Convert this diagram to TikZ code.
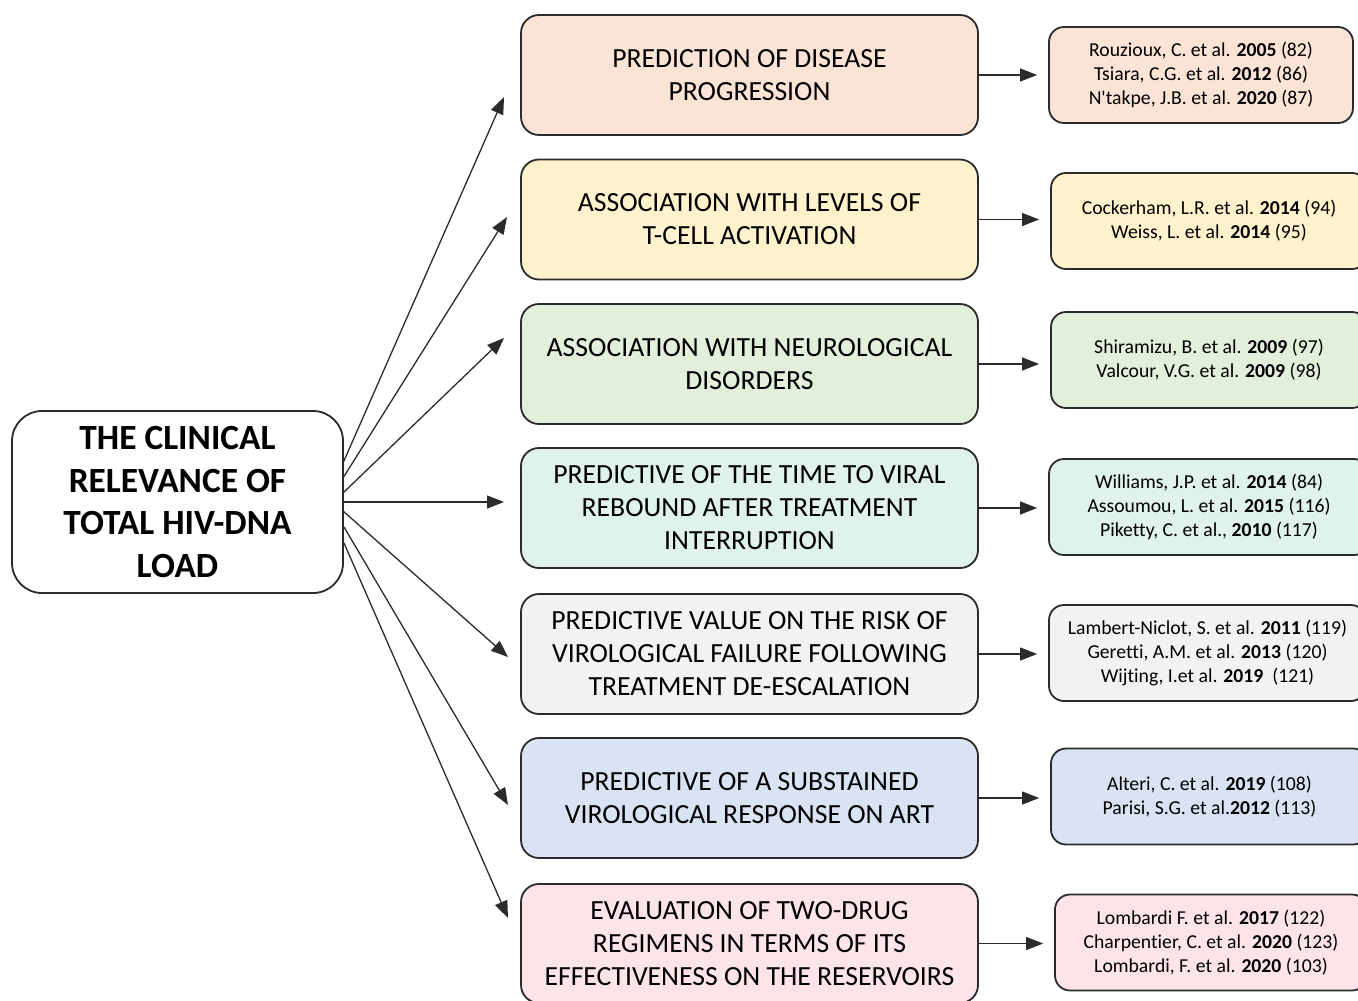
\documentclass[tikz,border=0pt]{standalone}
\usepackage{fontspec}
\setmainfont{Carlito}[Ligatures={NoCommon,TeXOff}]
\usetikzlibrary{arrows.meta,calc}
\definecolor{c1}{HTML}{FBE3D6}
\definecolor{c2}{HTML}{FFF2CC}
\definecolor{c3}{HTML}{E2EFDA}
\definecolor{c4}{HTML}{DFF2EC}
\definecolor{c5}{HTML}{F2F2F2}
\definecolor{c6}{HTML}{DAE3F3}
\definecolor{c7}{HTML}{FDE4E9}
\definecolor{edge}{HTML}{2B2B2B}
\begin{document}
\begin{tikzpicture}[x=1pt,y=-1pt,
  mainbox/.style={draw=edge,line width=1.8pt,rounded corners=30pt,align=center,
    minimum width=331pt,minimum height=182pt,inner sep=0pt,
    font=\fontsize{35.4}{42.5}\selectfont\bfseries},
  topic/.style={draw=edge,line width=1.8pt,rounded corners=18pt,align=center,
    minimum width=457pt,minimum height=120pt,inner sep=0pt,
    font=\fontsize{27.7}{33}\selectfont},
  refbox/.style={draw=edge,line width=1.8pt,rounded corners=15pt,align=center,
    minimum height=96pt,inner sep=0pt,
    font=\fontsize{19.7}{24}\selectfont},
  arr/.style={draw=edge,line width=1.3pt,-{Triangle[length=17pt,width=13pt]}},
  sarr/.style={arr,line width=1.1pt,shorten >=11pt}]
\useasboundingbox (0,0) rectangle (1358,1001);

% main node
\node[mainbox] (main) at (177.5,502) {THE CLINICAL\\RELEVANCE OF\\TOTAL HIV-DNA\\LOAD};

% topic nodes
\node[topic,fill=c1] (m1) at (749.5,75) {PREDICTION OF DISEASE\\PROGRESSION};
\node[topic,fill=c2] (m2) at (749.5,219.5) {ASSOCIATION WITH LEVELS OF\\T-CELL ACTIVATION};
\node[topic,fill=c3] (m3) at (749.5,364) {ASSOCIATION WITH NEUROLOGICAL\\DISORDERS};
\node[topic,fill=c4] (m4) at (749.5,508) {PREDICTIVE OF THE TIME TO VIRAL\\REBOUND AFTER TREATMENT\\INTERRUPTION};
\node[topic,fill=c5] (m5) at (749.5,654) {PREDICTIVE VALUE ON THE RISK OF\\VIROLOGICAL FAILURE FOLLOWING\\TREATMENT DE-ESCALATION};
\node[topic,fill=c6] (m6) at (749.5,798) {PREDICTIVE OF A SUBSTAINED\\VIROLOGICAL RESPONSE ON ART};
\node[topic,fill=c7,minimum height=119pt] (m7) at (749.5,943.5) {EVALUATION OF TWO-DRUG\\REGIMENS IN TERMS OF ITS\\EFFECTIVENESS ON THE RESERVOIRS};

% reference nodes
\node[refbox,fill=c1,minimum width=304pt] (r1) at (1201,75)
  {Rouzioux, C. et al. \textbf{2005} (82)\\Tsiara, C.G. et al. \textbf{2012} (86)\\N'takpe, J.B. et al. \textbf{2020} (87)};
\node[refbox,fill=c2,minimum width=316pt] (r2) at (1209,221)
  {Cockerham, L.R. et al. \textbf{2014} (94)\\Weiss, L. et al. \textbf{2014} (95)};
\node[refbox,fill=c3,minimum width=316pt] (r3) at (1209,360)
  {Shiramizu, B. et al. \textbf{2009} (97)\\Valcour, V.G. et al. \textbf{2009} (98)};
\node[refbox,fill=c4,minimum width=320pt] (r4) at (1209,507)
  {Williams, J.P. et al. \textbf{2014} (84)\\Assoumou, L. et al. \textbf{2015} (116)\\Piketty, C. et al., \textbf{2010} (117)};
\node[refbox,fill=c5,minimum width=317pt] (r5) at (1207.5,653)
  {Lambert-Niclot, S. et al. \textbf{2011} (119)\\Geretti, A.M. et al. \textbf{2013} (120)\\Wijting, I.et al. \textbf{2019}\ \ (121)};
\node[refbox,fill=c6,minimum width=317pt] (r6) at (1209.5,796.5)
  {Alteri, C. et al. \textbf{2019} (108)\\Parisi, S.G. et al.\textbf{2012} (113)};
\node[refbox,fill=c7,minimum width=312pt] (r7) at (1211,942.5)
  {Lombardi F. et al. \textbf{2017} (122)\\Charpentier, C. et al. \textbf{2020} (123)\\Lombardi, F. et al. \textbf{2020} (103)};

% fan arrows from the main node
\coordinate (s1) at (343,463);
\coordinate (s2) at (343,478);
\coordinate (s3) at (343,493);
\coordinate (s4) at (343,502);
\coordinate (s5) at (343,511);
\coordinate (s6) at (344,527);
\coordinate (s7) at (344,543);
\coordinate (e1) at (504,97);
\coordinate (e2) at (507,217);
\coordinate (e3) at (504,338);
\coordinate (e4) at (504,502);
\coordinate (e5) at (508,657);
\coordinate (e6) at (508,805);
\coordinate (e7) at (508,918);
\foreach \i in {1,...,7} {\draw[arr] (s\i) -- (e\i);}

% short arrows to the references
\foreach \i in {1,...,7} {\draw[sarr] (m\i.east) -- (m\i.east -| r\i.west);}
\end{tikzpicture}
\end{document}
